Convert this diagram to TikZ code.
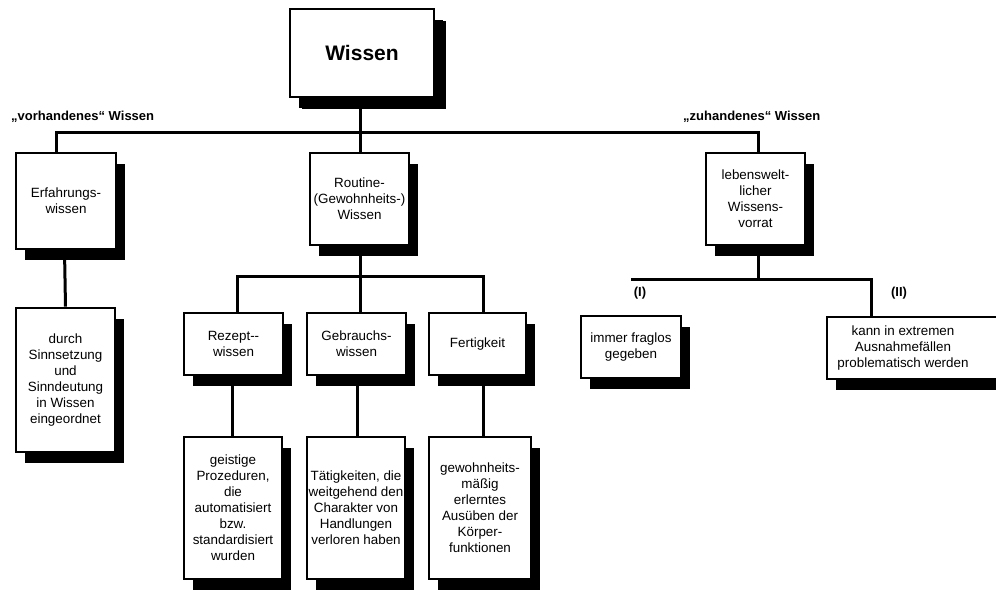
\documentclass[tikz,border=0pt]{standalone}
\usepackage{fontspec}
\setmainfont{Liberation Sans}
\usetikzlibrary{shadows,backgrounds}
\begin{document}
\begin{tikzpicture}[x=1pt,y=-1pt,
  box/.style={draw, line width=2.6pt, fill=white, inner sep=0pt, align=center,
    font=\fontsize{13.4pt}{16pt}\selectfont,
    drop shadow={shadow xshift=9pt, shadow yshift=-11pt, fill=black, opacity=1}},
  bigbox/.style={box, font=\fontsize{21pt}{24pt}\selectfont\bfseries,
    drop shadow={shadow xshift=12pt, shadow yshift=-12pt, fill=black, opacity=1}},
  conn/.style={line width=3pt},
  lbl/.style={font=\fontsize{13pt}{15pt}\selectfont\bfseries, inner sep=0pt}]
\useasboundingbox (0,0) rectangle (996,590);

% boxes
\path (362,53) node[bigbox, minimum width=144pt, minimum height=88pt] (wissen) {Wissen};
\path (66,201) node[box, minimum width=100pt, minimum height=96pt] (erf) {Erfahrungs-\\wissen};
\path (359.5,199) node[box, minimum width=99pt, minimum height=92pt] (routine) {Routine-\\(Gewohnheits-)\\Wissen};
\path (755.5,199) node[box, minimum width=99pt, minimum height=92pt] (leben) {lebenswelt-\\licher\\Wissens-\\vorrat};
\path (65.5,380) node[box, minimum width=99pt, minimum height=144pt] (durch) {durch\\Sinnsetzung\\und\\Sinndeutung\\in Wissen\\eingeordnet};
\path (233.5,344) node[box, minimum width=99pt, minimum height=62pt] (rezept) {Rezept-{}-\\wissen};
\path (356.5,344) node[box, minimum width=99pt, minimum height=62pt] (gebrauch) {Gebrauchs-\\wissen};
\path (477.5,344) node[box, minimum width=97pt, minimum height=62pt] (fertig) {Fertigkeit};
\path (233,508) node[box, minimum width=98pt, minimum height=142pt] (geistig) {geistige\\Prozeduren,\\die\\automatisiert\\bzw.\\standardisiert\\wurden};
\path (356,508) node[box, minimum width=98pt, minimum height=142pt] (taetig) {Tätigkeiten, die\\weitgehend den\\Charakter von\\Handlungen\\verloren haben};
\path (480,508) node[box, minimum width=102pt, minimum height=142pt] (gewohn) {gewohnheits-\\mäßig\\erlerntes\\Ausüben der\\Körper-\\funktionen};
\path (631,347) node[box, minimum width=100pt, minimum height=62pt] (immer) {immer fraglos\\gegeben};
\path (922,348) node[box, minimum width=190pt, minimum height=62pt] (kann) {\parbox{152pt}{\centering kann in extremen\\Ausnahmefällen\\problematisch werden}\hspace*{38pt}};

% labels
\node[lbl, anchor=west] (vorh) at (11,117) {„vorhandenes“ Wissen};
\node[lbl, anchor=west] (zuh) at (683,117) {„zuhandenes“ Wissen};
\node[lbl] (l1) at (640,293) {(I)};
\node[lbl] (l2) at (899,293) {(II)};

% connectors behind boxes
\coordinate (bus1) at (360,132);
\coordinate (bus2) at (360,276);
\coordinate (bus3) at (758,279);
\begin{pgfonlayer}{background}
\draw[conn] ([xshift=-2pt]wissen.south) -- ([xshift=0.5pt]routine.north);
\draw[conn] ([xshift=-10pt]erf.north) |- (bus1) -| ([xshift=2.5pt]leben.north);
\draw[conn] ([xshift=-1.5pt]erf.south) -- (durch.north);
\draw[conn] ([xshift=0.5pt]routine.south) -- (bus2);
\draw[conn] ([xshift=3.5pt]rezept.north) |- (bus2) -| ([xshift=5.5pt]fertig.north);
\draw[conn] (bus2) -- ([xshift=3.5pt]gebrauch.north);
\draw[conn] ([xshift=-1.5pt]rezept.south) -- ([xshift=-1pt]geistig.north);
\draw[conn] ([xshift=0.5pt]gebrauch.south) -- ([xshift=1pt]taetig.north);
\draw[conn] ([xshift=5.5pt]fertig.south) -- ([xshift=3pt]gewohn.north);
\draw[conn] ([xshift=2.5pt]leben.south) -- (bus3);
\coordinate (b3l) at (631,279);
\draw[conn] (b3l) -- (bus3) -| ([xshift=-51pt]kann.north);
\end{pgfonlayer}
\end{tikzpicture}
\end{document}
